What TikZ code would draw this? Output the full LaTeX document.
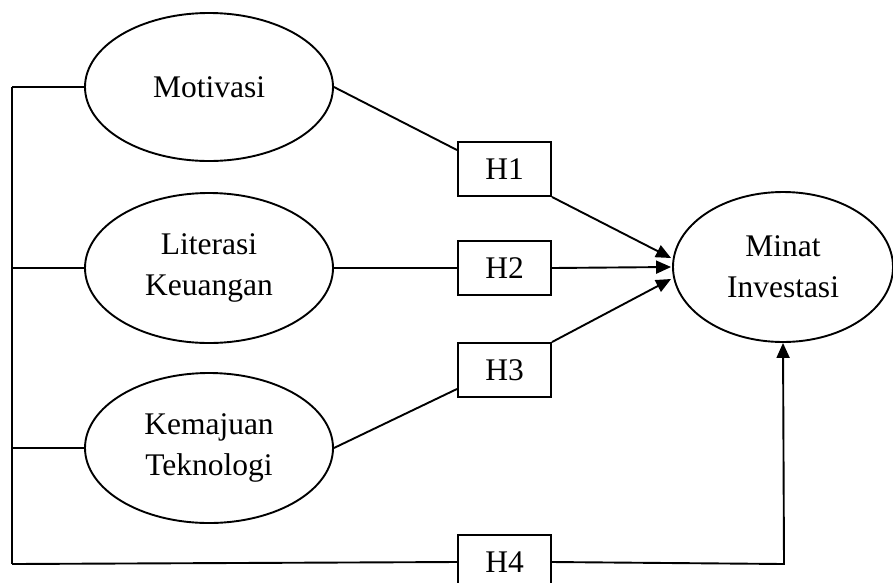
\documentclass[tikz,border=0pt]{standalone}
\usepackage{fontspec}
\setmainfont{Liberation Serif}
\usetikzlibrary{shapes.geometric,arrows.meta,calc}
\begin{document}
\begin{tikzpicture}[x=1pt,y=-1pt,
  line width=1.9pt,
  every node/.style={font=\fontsize{31.5}{41}\selectfont},
  varell/.style={draw,ellipse,inner sep=0pt,minimum width=248pt,minimum height=148pt,align=center},
  hbox/.style={draw,rectangle,inner sep=0pt,minimum width=93pt,minimum height=54pt},
  arr/.style={-{Triangle[length=15pt,width=13pt]}}]
\clip (0,0) rectangle (893,582);
\fill[white] (0,0) rectangle (893,582);
\node[varell] (mot) at (209,87) {Motivasi};
\node[varell,minimum height=150pt] (lit) at (209,268) {Literasi\\Keuangan};
\node[varell,minimum height=150pt] (kem) at (209,448) {Kemajuan\\Teknologi};
\node[varell,minimum width=220pt,minimum height=150pt] (minat) at (783,267) {Minat\\Investasi};
\node[hbox] (h1) at (504.5,169) {H1};
\node[hbox] (h2) at (504.5,268) {H2};
\node[hbox] (h3) at (504.5,370) {H3};
\node[hbox] (h4) at (504.5,562) {H4};
\coordinate (lt) at (12,87);
\coordinate (lm) at (12,268);
\coordinate (lk) at (12,448);
\coordinate (lb) at (12,564);
\coordinate (rb) at (784,564);
\draw (lt) -- (lb);
\draw (lt) -- (mot.west);
\draw (lm) -- (lit.west);
\draw (lk) -- (kem.west);
\draw (lb) -- (h4.west);
\draw[arr] (h4.east) -- (rb) -- (minat.south);
\draw (mot.east) -- ($(h1.north west)+(0,9)$);
\draw[arr] (h1.south east) -- ($(minat.west)+(-1,-9)$);
\draw (lit.east) -- (h2.west);
\draw[arr] (h2.east) -- ($(minat.west)+(-1,0)$);
\draw (kem.east) -- ($(h3.south west)+(0,-9)$);
\draw[arr] (h3.north east) -- ($(minat.west)+(-1,12)$);
\end{tikzpicture}
\end{document}
